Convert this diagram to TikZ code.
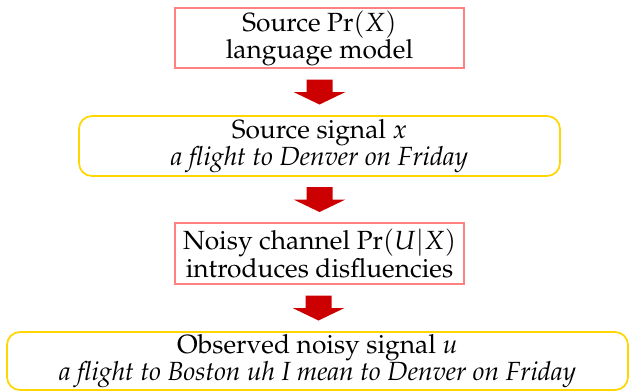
\documentclass[tikz,border=0pt]{standalone}
\usepackage[T1]{fontenc}
\usepackage{mathpazo}
\usetikzlibrary{calc}
\definecolor{boxpink}{RGB}{255,128,128}
\definecolor{boxgold}{RGB}{255,214,0}
\definecolor{arrowred}{RGB}{204,0,0}
\tikzset{
  txt/.style={align=center,font=\fontsize{26.3}{23}\selectfont,inner sep=0pt},
  pinkbox/.style={txt,draw=boxpink,line width=1.7pt,minimum width=289pt,minimum height=60pt},
  goldbox/.style={txt,draw=boxgold,line width=1.7pt,rounded corners=13pt,minimum height=60pt},
  blockarrow/.pic={
    \fill[arrowred] (-13,-12.5) -- (13,-12.5) -- (13,0) -- (26,0) -- (0,12.5)
      -- (-26,0) -- (-13,0) -- cycle;
  }
}
\begin{document}
\begin{tikzpicture}[x=1pt,y=-1pt]
\useasboundingbox (0,0) rectangle (629,391);
\node[pinkbox] (lm) at (319.5,38) {Source $\Pr(X)$\\ language model};
\node[goldbox,minimum width=481pt] (src) at (319.5,146)
  {Source signal $x$\\ \textit{a flight to Denver on Friday}};
\node[pinkbox,minimum height=61pt] (chan) at (319.5,253.5)
  {Noisy channel $\Pr(U|X)$\\ introduces disfluencies};
\node[goldbox,minimum width=621pt,minimum height=58pt] (obs) at (317.5,361)
  {Observed noisy signal $u$\\ \textit{a flight to Boston uh I mean to Denver on Friday}};
\pic at ($(lm.south)!0.5!(src.north)$) {blockarrow};
\pic at ($(src.south)!0.5!(chan.north)$) {blockarrow};
\pic at ($(chan.south)!0.5!(obs.north)$) {blockarrow};
\end{tikzpicture}
\end{document}
